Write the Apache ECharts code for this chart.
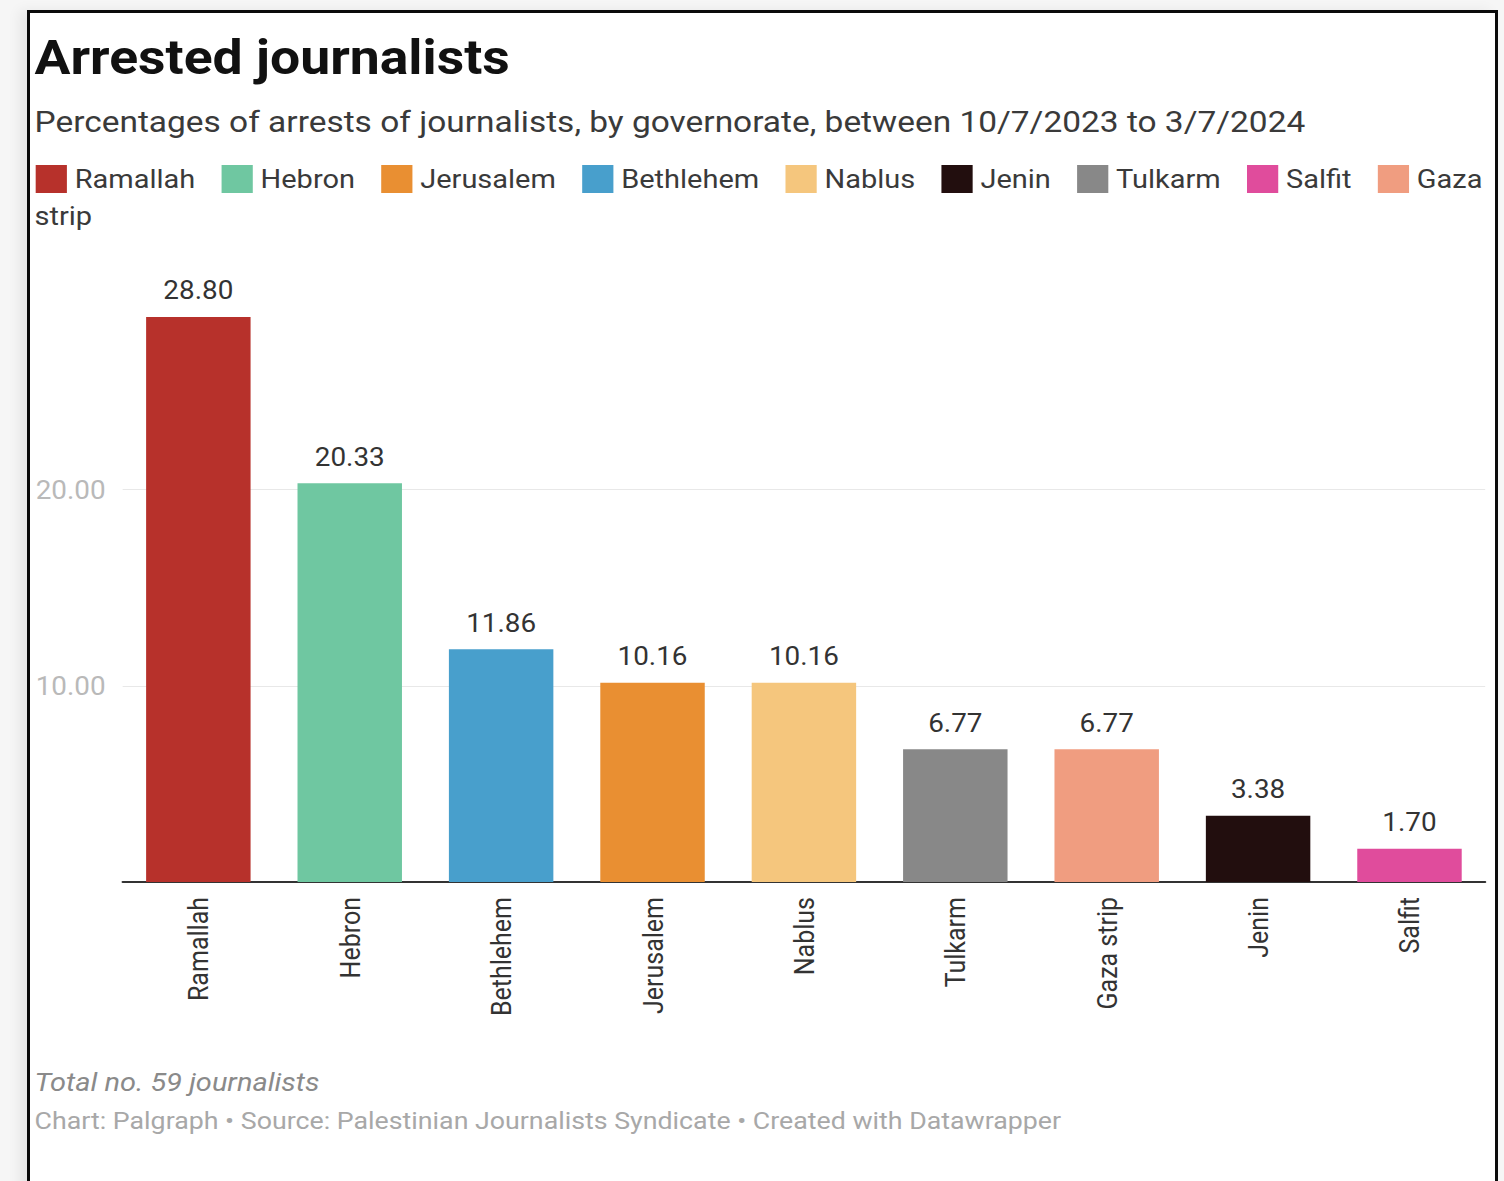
<!DOCTYPE html>
<html>
<head>
<meta charset="utf-8">
<title>Arrested journalists</title>
<script src="https://cdn.jsdelivr.net/npm/echarts@6/dist/echarts.min.js"></script>
<style>
  html, body { margin: 0; padding: 0; background: #f6f6f6; overflow: hidden; }
  #frame { position: absolute; left: 27px; top: 10px; width: 1465px; height: 1260px; border: 3px solid #0b0b0b; background: #fff; box-shadow: -8px 0 12px rgba(0,0,0,0.06); }
  /* the source picture is stretched sideways, so the chart is drawn narrower and widened */
  #chart { position: absolute; left: 0; top: 0; width: 1349px; height: 1181px; transform: scaleX(1.115); transform-origin: 0 0; }
</style>
</head>
<body>
<div id="frame"></div>
<div id="chart"></div>
<script>
"use strict";

const categories = ["Ramallah", "Hebron", "Bethlehem", "Jerusalem", "Nablus", "Tulkarm", "Gaza strip", "Jenin", "Salfit"];
const values = [28.80, 20.33, 11.86, 10.16, 10.16, 6.77, 6.77, 3.38, 1.70];
const barColors = ["#b7312b", "#6fc7a1", "#489fcc", "#e98f32", "#f5c67d", "#888888", "#f09d80", "#220e0e", "#e04c9c"];
const legendOrder = ["Ramallah", "Hebron", "Jerusalem", "Bethlehem", "Nablus", "Jenin", "Tulkarm", "Salfit", "Gaza strip"];
const yMax = 28.8;
const yStep = 10;

const font = "Roboto";
const ink = { dark: "#333333", text: "#3a3a3a", muted: "#8a8a8a", faint: "#a8a8a8", grid: "#e8e8e8", axis: "#333333" };

const chart = echarts.init(document.getElementById("chart"), null, { renderer: "svg" });

const series = categories.map((name, i) => ({
  name,
  type: "bar",
  stack: "all",
  barWidth: "69%",
  data: values.map((v, j) => (j === i ? v : "-")),
  itemStyle: { color: barColors[i] },
  label: {
    show: true, position: "top", distance: 14,
    fontFamily: font, fontSize: 25, color: ink.dark,
    formatter: (p) => Number(p.value).toFixed(2),
  },
}));

chart.setOption({
  animation: false,
  backgroundColor: "transparent",
  textStyle: { fontFamily: font },
  title: [
    { text: "Arrested journalists", left: 31, top: 33, padding: 0, textStyle: { fontFamily: font, fontSize: 48, fontWeight: "bold", color: "#111" } },
    { text: "Percentages of arrests of journalists, by governorate, between 10/7/2023 to 3/7/2024", left: 31, top: 107, padding: 0, textStyle: { fontFamily: font, fontSize: 30, fontWeight: "normal", color: ink.text } },
    { text: "Total no. 59 journalists", left: 31, top: 1069, padding: 0, textStyle: { fontFamily: font, fontSize: 26, fontStyle: "italic", fontWeight: "normal", color: ink.muted } },
    { text: "Chart: Palgraph \u2022 Source: Palestinian Journalists Syndicate \u2022 Created with Datawrapper", left: 31, top: 1108, padding: 0, textStyle: { fontFamily: font, fontSize: 24, fontWeight: "normal", color: ink.faint } },
  ],
  legend: {
    data: legendOrder,
    left: 32, top: 165, width: 1340, padding: 0,
    itemWidth: 28, itemHeight: 28, itemGap: 23.5,
    icon: "rect",
    formatter: (name) => (name === "Gaza strip" ? "Gaza" : name),
    textStyle: { fontFamily: font, fontSize: 26, color: ink.text, padding: [0, 0, 0, 2] },
    selectedMode: false,
  },
  graphic: [
    { type: "text", left: 31, top: 203, style: { text: "strip", fontFamily: font, fontSize: 26, fill: ink.text } },
  ],
  grid: { left: 110, right: 17, top: 317, bottom: 299 },
  xAxis: {
    type: "category",
    data: categories,
    axisLine: { lineStyle: { color: ink.axis, width: 2 } },
    axisTick: { show: false },
    axisLabel: { rotate: 90, margin: 15, fontFamily: font, fontSize: 25, color: ink.dark, interval: 0 },
  },
  yAxis: {
    type: "value",
    min: 0, max: yMax, interval: yStep,
    axisLine: { show: false },
    axisTick: { show: false },
    axisLabel: {
      showMinLabel: false, showMaxLabel: false,
      margin: 78, align: "left",
      fontFamily: font, fontSize: 25, color: "#b9b9b9",
      formatter: (v) => v.toFixed(2),
    },
    splitLine: { show: true, showMinLine: false, showMaxLine: false, lineStyle: { color: ink.grid, width: 1 } },
  },
  series,
});
</script>
</body>
</html>
